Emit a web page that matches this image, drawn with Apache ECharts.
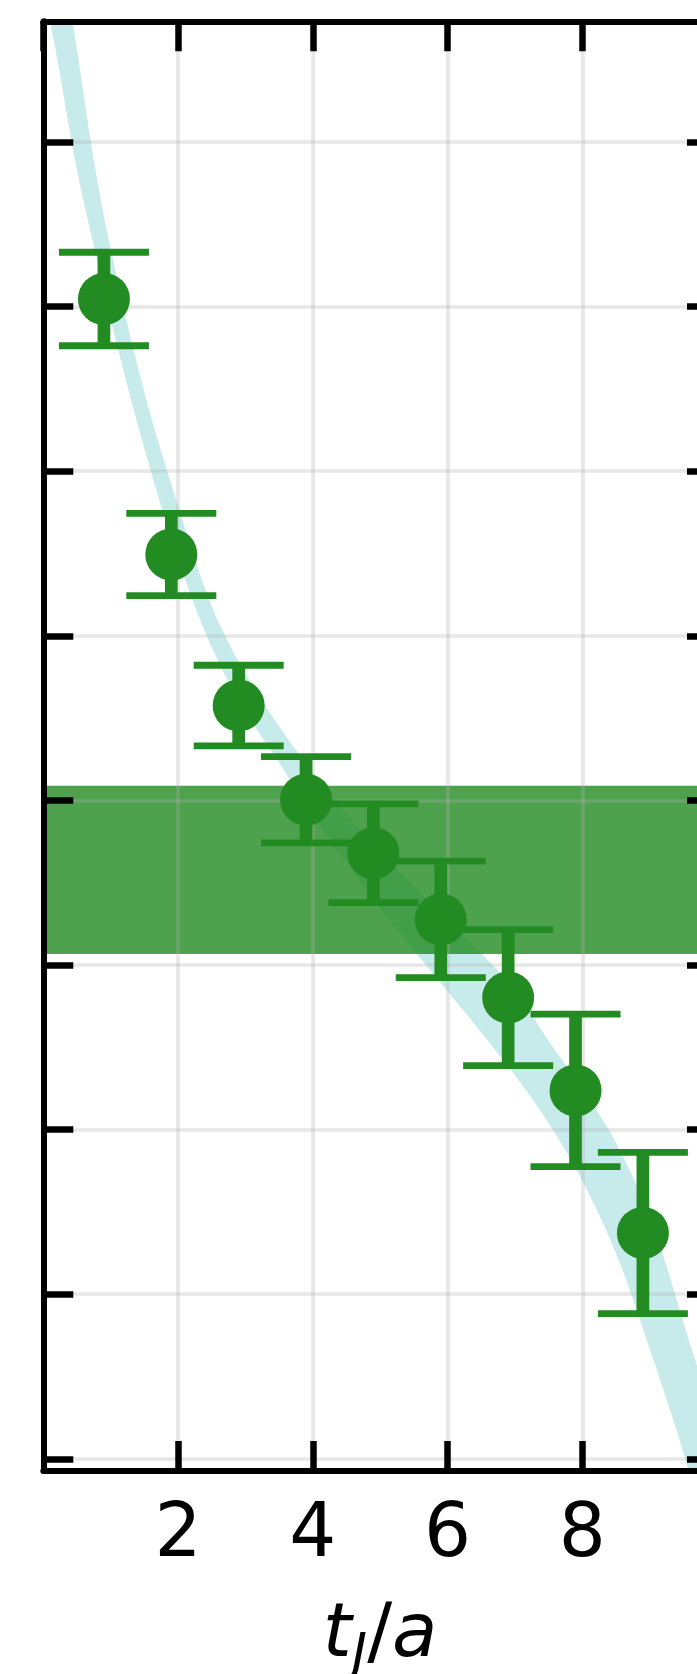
<!DOCTYPE html>
<html>
<head>
<meta charset="utf-8">
<title>t_J/a ratio</title>
<script src="https://cdn.jsdelivr.net/npm/echarts@6/dist/echarts.min.js"></script>
<style>
  html, body { margin: 0; padding: 0; background: #ffffff; }
  #chart { width: 697px; height: 1674px; }
</style>
</head>
<body>
<div id="chart"></div>
<script>
// Ratio data points (source-sink separation t_J/a)
const tJ = [0.9, 1.9, 2.9, 3.9, 4.9, 5.9, 6.9, 7.9, 8.9];
const ratio = [7.046, 5.494, 4.576, 4.004, 3.679, 3.277, 2.802, 2.238, 1.372];
const ratioErr = [0.284, 0.250, 0.245, 0.262, 0.300, 0.354, 0.413, 0.463, 0.490];

// Plateau estimate (lower, upper)
const plateau = [3.067, 4.089];

// Fit curve error band: lower and upper edges sampled along t_J/a
const fitT = [0, 0.25, 0.5, 0.75, 1, 1.5, 2, 2.5, 3, 3.5, 4, 4.5, 5, 5.5, 6, 6.5, 7, 7.5, 8, 8.5, 9, 9.5, 10];
const fitLow = [9.04, 8.41, 7.83, 7.37, 6.92, 6.14, 5.47, 4.93, 4.54, 4.23, 3.91, 3.62, 3.34, 3.09, 2.84, 2.59, 2.33, 2.04, 1.69, 1.25, 0.67, 0.04, -0.69];
const fitHigh = [9.90, 9.23, 8.56, 7.89, 7.35, 6.48, 5.79, 5.18, 4.77, 4.45, 4.17, 3.92, 3.69, 3.48, 3.27, 3.07, 2.85, 2.54, 2.25, 1.92, 1.47, 0.83, 0.08];

// Axis ranges
const xRange = [0, 10];
const yRange = [-0.074, 8.733];
const yTickRange = [0, 8];

const GREEN = '#228B22';
const FONT = 'DejaVu Sans';
const gridLine = { show: true, lineStyle: { color: 'rgba(176,176,176,0.3)', width: 3.7 } };
const spine = { show: true, onZero: false, lineStyle: { color: '#000', width: 6 } };
const noLine = { show: false, onZero: false };
const inTick = { show: true, inside: true, length: 30, lineStyle: { color: '#000', width: 6.5 } };

const chart = echarts.init(document.getElementById('chart'), null, { renderer: 'canvas' });

function clipToGrid(params, children) {
  const cs = params.coordSys;
  return {
    type: 'group',
    children: children,
    clipPath: { type: 'rect', shape: { x: cs.x, y: cs.y, width: cs.width, height: cs.height } }
  };
}

const option = {
  animation: false,
  backgroundColor: '#ffffff',
  grid: [
    { left: 43.3, top: 21.3, width: 673.7, height: 1449.7, containLabel: false, outerBoundsMode: 'none' },
    { left: 43.3, top: 142, width: 673.7, height: 1316.8, containLabel: false, outerBoundsMode: 'none' }
  ],
  xAxis: [
    {
      type: 'value', gridIndex: 0, position: 'bottom',
      min: xRange[0], max: xRange[1], interval: 2, z: 3,
      axisLine: spine, axisTick: inTick, splitLine: gridLine,
      axisLabel: {
        show: true, margin: 28.5, color: '#000', fontSize: 74, fontFamily: FONT,
        lineHeight: 74, showMinLabel: false, showMaxLabel: false
      },
      name: '{t|t}{j|J}{s|/}{t|a}',
      nameLocation: 'middle', nameGap: 121,
      nameTextStyle: {
        color: '#000',
        rich: {
          t: { fontFamily: FONT, fontStyle: 'italic', fontSize: 74, lineHeight: 90, color: '#000' },
          j: { fontFamily: FONT, fontStyle: 'italic', fontSize: 52, lineHeight: 57, verticalAlign: 'bottom', color: '#000' },
          s: { fontFamily: FONT, fontSize: 74, lineHeight: 90, color: '#000' }
        }
      }
    },
    {
      type: 'value', gridIndex: 0, position: 'top',
      min: xRange[0], max: xRange[1], interval: 2, z: 3,
      axisLine: spine, axisTick: inTick, splitLine: { show: false }, axisLabel: { show: false }
    },
    {
      type: 'value', gridIndex: 1, min: xRange[0], max: xRange[1], show: false,
      axisLine: noLine
    }
  ],
  yAxis: [
    {
      type: 'value', gridIndex: 0, position: 'left',
      min: yRange[0], max: yRange[1], z: 3,
      axisLine: spine, axisTick: { show: false }, splitLine: { show: false }, axisLabel: { show: false }
    },
    {
      type: 'value', gridIndex: 0, position: 'right',
      min: yRange[0], max: yRange[1], z: 3,
      axisLine: spine, axisTick: { show: false }, splitLine: { show: false }, axisLabel: { show: false }
    },
    {
      type: 'value', gridIndex: 1, position: 'left',
      min: yTickRange[0], max: yTickRange[1], interval: 1, z: 3,
      axisLine: noLine, axisTick: inTick, splitLine: gridLine, axisLabel: { show: false }
    },
    {
      type: 'value', gridIndex: 1, position: 'right',
      min: yTickRange[0], max: yTickRange[1], interval: 1, z: 3,
      axisLine: noLine, axisTick: inTick, splitLine: { show: false }, axisLabel: { show: false }
    }
  ],
  series: [
    {
      // fit error band
      type: 'custom', xAxisIndex: 0, yAxisIndex: 0, z: 1, silent: true,
      data: [[fitT[0], fitLow[0]]],
      renderItem: function (params, api) {
        const pts = [];
        for (let i = 0; i < fitT.length; i++) pts.push(api.coord([fitT[i], fitHigh[i]]));
        for (let i = fitT.length - 1; i >= 0; i--) pts.push(api.coord([fitT[i], fitLow[i]]));
        return clipToGrid(params, [{
          type: 'polygon',
          shape: { points: pts, smooth: 0.35 },
          style: { fill: '#c7eaea', stroke: null }
        }]);
      }
    },
    {
      // plateau band
      type: 'custom', xAxisIndex: 0, yAxisIndex: 0, z: 2, silent: true,
      data: [[xRange[0], plateau[0]]],
      renderItem: function (params, api) {
        const a = api.coord([xRange[0], plateau[1]]);
        const b = api.coord([xRange[1], plateau[0]]);
        return clipToGrid(params, [{
          type: 'rect',
          shape: { x: a[0], y: a[1], width: b[0] - a[0], height: b[1] - a[1] },
          style: { fill: 'rgba(34,139,34,0.8)' }
        }]);
      }
    },
    {
      // error bars
      type: 'custom', xAxisIndex: 0, yAxisIndex: 0, z: 4, silent: true,
      data: tJ.map((t, i) => [t, ratio[i], ratioErr[i]]),
      renderItem: function (params, api) {
        const t = api.value(0), v = api.value(1), e = api.value(2);
        const top = api.coord([t, v + e]);
        const bot = api.coord([t, v - e]);
        const capHalf = 45;
        return {
          type: 'group',
          children: [
            { type: 'line', shape: { x1: top[0], y1: top[1], x2: bot[0], y2: bot[1] },
              style: { stroke: GREEN, lineWidth: 12.7 } },
            { type: 'line', shape: { x1: top[0] - capHalf, y1: top[1], x2: top[0] + capHalf, y2: top[1] },
              style: { stroke: GREEN, lineWidth: 6.8 } },
            { type: 'line', shape: { x1: bot[0] - capHalf, y1: bot[1], x2: bot[0] + capHalf, y2: bot[1] },
              style: { stroke: GREEN, lineWidth: 6.8 } }
          ]
        };
      }
    },
    {
      type: 'scatter', xAxisIndex: 0, yAxisIndex: 0, z: 5, silent: true,
      symbol: 'circle', symbolSize: 52,
      itemStyle: { color: GREEN, opacity: 1 },
      data: tJ.map((t, i) => [t, ratio[i]])
    }
  ]
};

chart.setOption(option);
</script>
</body>
</html>
